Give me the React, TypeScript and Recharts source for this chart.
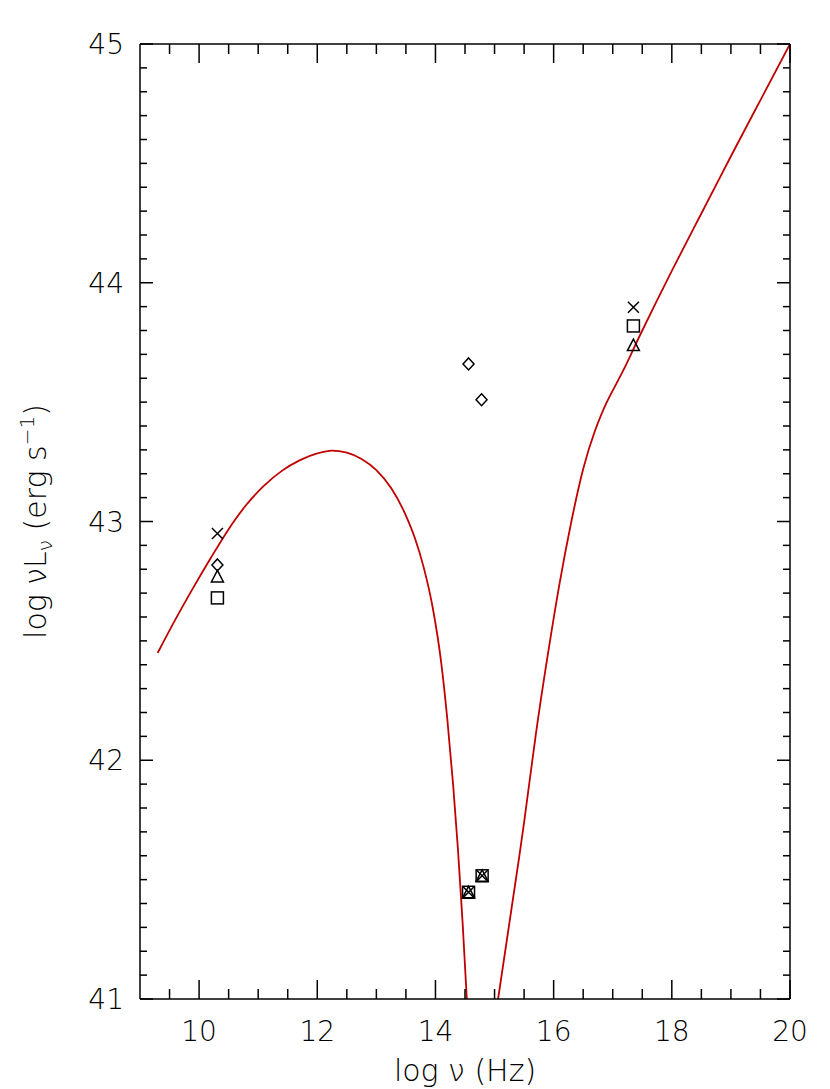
import { ComposedChart, XAxis, YAxis, Line, Scatter } from "recharts"

// model curve, left (synchrotron-like) branch
const leftX = [9.3, 9.6, 9.9, 10.2, 10.5, 10.8, 11.1, 11.4, 11.7, 12.0, 12.25, 12.5, 12.75, 13.0, 13.25, 13.5, 13.65, 13.8, 13.95, 14.1, 14.2, 14.3, 14.38, 14.46, 14.54]
const leftY = [42.45, 42.59, 42.722, 42.848, 42.968, 43.07, 43.15, 43.212, 43.256, 43.285, 43.297, 43.288, 43.262, 43.215, 43.14, 43.025, 42.932, 42.809, 42.644, 42.404, 42.174, 41.894, 41.63, 41.318, 40.958]

// model curve, right branch
const rightX = [15.06, 15.3, 15.5, 15.7, 15.9, 16.1, 16.3, 16.5, 16.7, 16.9, 17.1, 17.3, 17.5, 18.0, 18.5, 19.0, 19.5, 20.0]
const rightY = [41.0, 41.4, 41.74, 42.11, 42.44, 42.74, 43.0, 43.22, 43.38, 43.5, 43.595, 43.695, 43.8, 44.05, 44.29, 44.53, 44.765, 45.0]

// observed points
const crossX = [10.31, 14.56, 14.79, 17.35]
const crossY = [42.95, 41.447, 41.516, 43.897]
const diamondX = [10.31, 14.56, 14.78]
const diamondY = [42.818, 43.66, 43.51]
const triangleX = [10.31, 14.56, 14.79, 17.35]
const triangleY = [42.77, 41.447, 41.516, 43.739]
const squareX = [10.31, 14.56, 14.79, 17.35]
const squareY = [42.68, 41.447, 41.516, 43.819]

const xTicks = [9.5, 10, 10.5, 11, 11.5, 12, 12.5, 13, 13.5, 14, 14.5, 15, 15.5, 16, 16.5, 17, 17.5, 18, 18.5, 19, 19.5, 20]
const xLabels = [10, 12, 14, 16, 18, 20]
const yTicks: number[] = []
for (let i = 0; i <= 40; i++) yTicks.push(Math.round((41 + i * 0.1) * 10) / 10)
const yLabels = [41, 42, 43, 44, 45]

const zip = (xs: number[], ys: number[]) => xs.map((x, i) => ({ x, y: ys[i] }))

const FONT = "DejaVu Sans"
const RED = "#c00000"

const isLabel = (list: number[], v: number) => list.some((l) => Math.abs(l - v) < 1e-6)

function BottomTick({ x, y, payload }: any) {
  const major = isLabel(xLabels, payload.value)
  return (
    <g>
      <line x1={x} x2={x} y1={y} y2={y - (major ? 19 : 10)} stroke="#000" strokeWidth={1.5} />
      {major && (
        <text x={x} y={y + 42} textAnchor="middle" fontSize={28} fontWeight={200} fontFamily={FONT} fill="#000">
          {payload.value}
        </text>
      )}
    </g>
  )
}

function TopTick({ x, y, payload }: any) {
  const major = isLabel(xLabels, payload.value)
  return <line x1={x} x2={x} y1={y} y2={y + (major ? 19 : 10)} stroke="#000" strokeWidth={1.5} />
}

function LeftTick({ x, y, payload }: any) {
  const major = isLabel(yLabels, payload.value)
  return (
    <g>
      <line x1={x} x2={x + (major ? 13 : 7)} y1={y} y2={y} stroke="#000" strokeWidth={1.5} />
      {major && (
        <text x={x - 16} y={y + 10} textAnchor="end" fontSize={28} fontWeight={200} fontFamily={FONT} fill="#000">
          {payload.value}
        </text>
      )}
    </g>
  )
}

function RightTick({ x, y, payload }: any) {
  const major = isLabel(yLabels, payload.value)
  return <line x1={x} x2={x - (major ? 13 : 7)} y1={y} y2={y} stroke="#000" strokeWidth={1.5} />
}

const mark = { stroke: "#000", strokeWidth: 1.5, fill: "none" }

function Cross({ cx, cy }: any) {
  return <path d={`M${cx - 5.5},${cy - 5.5}L${cx + 5.5},${cy + 5.5}M${cx - 5.5},${cy + 5.5}L${cx + 5.5},${cy - 5.5}`} {...mark} />
}
function Diamond({ cx, cy }: any) {
  return <path d={`M${cx},${cy - 6}L${cx + 5.5},${cy}L${cx},${cy + 6}L${cx - 5.5},${cy}Z`} {...mark} />
}
function Triangle({ cx, cy }: any) {
  return <path d={`M${cx},${cy - 6}L${cx + 6},${cy + 5.5}L${cx - 6},${cy + 5.5}Z`} {...mark} />
}
function Square({ cx, cy }: any) {
  return <rect x={cx - 6} y={cy - 6} width={12} height={12} {...mark} />
}

function XTitle({ viewBox }: any) {
  const cx = viewBox.x + viewBox.width / 2
  return (
    <text x={cx} y={viewBox.y + 82} textAnchor="middle" fontSize={30} fontWeight={200} fontFamily={FONT} fill="#000">
      log ν (Hz)
    </text>
  )
}

function YTitle({ viewBox }: any) {
  const x = 46
  const y = viewBox.y + viewBox.height / 2
  return (
    <text x={x} y={y} transform={`rotate(-90, ${x}, ${y})`} textAnchor="middle" fontSize={30} fontWeight={200} fontFamily={FONT} fill="#000">
      log νL
      <tspan fontSize={20} dy={6}>ν</tspan>
      <tspan dy={-6}> (erg s</tspan>
      <tspan fontSize={20} dy={-12}>−1</tspan>
      <tspan dy={12}>)</tspan>
    </text>
  )
}

const axisLine = { stroke: "#000", strokeWidth: 1.5 }

export default function App() {
  return (
    <div style={{ position: "absolute", left: 0, top: 0, background: "#fff" }}>
      <ComposedChart width={830} height={1089} margin={{ top: 43, right: 39, bottom: 0, left: 0 }}>
        <XAxis xAxisId={0} dataKey="x" type="number" domain={[9, 20]} allowDataOverflow ticks={xTicks} interval={0}
          height={90} tickSize={0} tickMargin={0} tickLine={false} tick={<BottomTick />} axisLine={axisLine}
          label={{ content: <XTitle /> }} />
        <XAxis xAxisId="top" orientation="top" dataKey="x" type="number" domain={[9, 20]} allowDataOverflow ticks={xTicks}
          interval={0} height={1} tickSize={0} tickMargin={0} tickLine={false} tick={<TopTick />} axisLine={axisLine} />
        <YAxis yAxisId={0} dataKey="y" type="number" domain={[41, 45]} allowDataOverflow ticks={yTicks} interval={0}
          width={140} tickSize={0} tickMargin={0} tickLine={false} tick={<LeftTick />} axisLine={axisLine}
          label={{ content: <YTitle /> }} />
        <YAxis yAxisId="right" orientation="right" dataKey="y" type="number" domain={[41, 45]} allowDataOverflow ticks={yTicks}
          interval={0} width={1} tickSize={0} tickMargin={0} tickLine={false} tick={<RightTick />} axisLine={axisLine} />
        {/* invisible series so the mirrored frame axes get drawn */}
        <Line xAxisId="top" yAxisId="right" data={zip(rightX, rightY)} dataKey="y" stroke="none" dot={false} activeDot={false} isAnimationActive={false} />
        <Line data={zip(leftX, leftY)} dataKey="y" type="monotone" stroke={RED} strokeWidth={1.8} dot={false} isAnimationActive={false} />
        <Line data={zip(rightX, rightY)} dataKey="y" type="natural" stroke={RED} strokeWidth={1.8} dot={false} isAnimationActive={false} />
        <Scatter data={zip(crossX, crossY)} shape={<Cross />} isAnimationActive={false} />
        <Scatter data={zip(diamondX, diamondY)} shape={<Diamond />} isAnimationActive={false} />
        <Scatter data={zip(triangleX, triangleY)} shape={<Triangle />} isAnimationActive={false} />
        <Scatter data={zip(squareX, squareY)} shape={<Square />} isAnimationActive={false} />
      </ComposedChart>
    </div>
  )
}
